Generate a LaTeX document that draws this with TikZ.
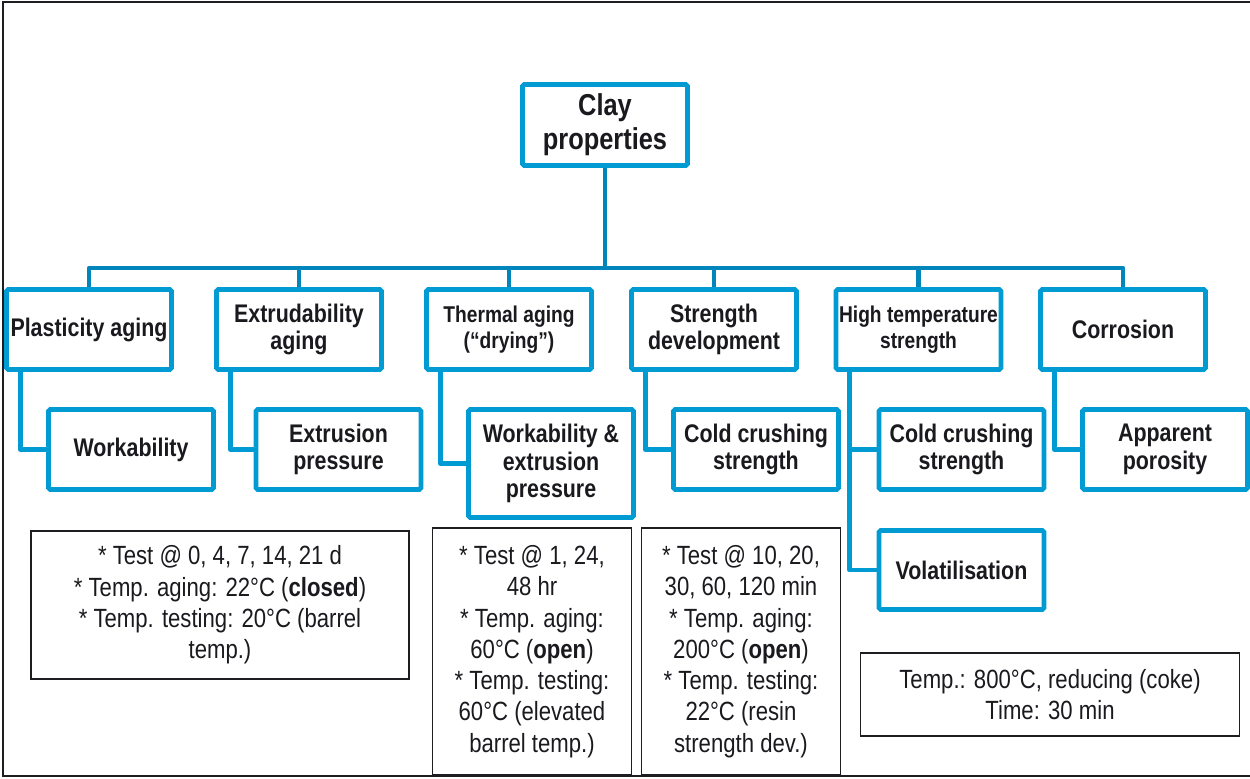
\documentclass[tikz,border=0pt]{standalone}
\usepackage{fontspec}
\setmainfont{Liberation Sans}[FakeStretch=0.84]
\definecolor{boxblue}{RGB}{0,155,210}
\definecolor{busblue}{RGB}{0,134,186}
\definecolor{framegray}{RGB}{30,30,34}
\definecolor{txt}{RGB}{25,25,30}
\begin{document}
\begin{tikzpicture}[x=0.02cm,y=-0.02cm,
  lvl/.style={draw=boxblue, line width=2.7pt, fill=white, rounded corners=1pt,
    align=center, inner sep=0pt, minimum width=3.3cm, minimum height=1.6cm,
    text=txt, font=\fontsize{14.5}{15.6}\selectfont\bfseries},
  small/.style={font=\fontsize{13}{14.6}\selectfont\bfseries},
  note/.style={draw=framegray, line width=1pt, align=center, inner sep=0pt,
    text=txt, font=\fontsize{15}{17.8}\selectfont},
  bus/.style={draw=busblue, line width=2.7pt, line join=round},
  conn/.style={draw=boxblue, line width=2.7pt, line join=round}]
\useasboundingbox (0,0) rectangle (1250,778);

% outer frame (open on the right)
\draw[framegray, line width=1.2pt] (1250,2) -- (3,2) -- (3,776) -- (1250,776);

% root
\node[lvl, minimum height=1.62cm, font=\fontsize{17.2}{19.2}\selectfont\bfseries]
  (clay) at (605,125) {Clay\\properties};
\coordinate (bus) at (605,268);

% first level
\node[lvl] (pl) at (89,329.5)   {Plasticity aging};
\node[lvl] (ex) at (299,329.5)  {Extrudability\\aging};
\node[lvl, small] (th) at (509,329.5)  {Thermal aging\\(“drying”)};
\node[lvl] (st) at (714,329.5)  {Strength\\development};
\node[lvl, small] (ht) at (918.5,329.5) {High temperature\\strength};
\node[lvl] (co) at (1123,329.5) {Corrosion};

% second level
\node[lvl] (wk)  at (131,449.5)   {Workability};
\node[lvl] (ep)  at (338.5,449.5) {Extrusion\\pressure};
\node[lvl, minimum height=2.16cm] (wep) at (551,463.5) {Workability \&\\extrusion\\pressure};
\node[lvl] (cc1) at (756,449.5)   {Cold crushing\\strength};
\node[lvl] (cc2) at (961.5,449.5) {Cold crushing\\strength};
\node[lvl] (ap)  at (1165,449.5)  {Apparent\\porosity};
\node[lvl, minimum height=1.58cm] (vol) at (961.5,570) {Volatilisation};

% tree connectors
\draw[bus] (clay.south) -- (bus);
\foreach \b in {pl,ex,th,st,ht,co}
  \draw[bus] (\b.north) |- (bus);

\draw[conn] (pl.south west) ++(16,0) |- (wk.west);
\draw[conn] (ex.south west) ++(16,0) |- (ep.west);
\draw[conn] (th.south west) ++(16,0) |- (wep.west);
\draw[conn] (st.south west) ++(16,0) |- (cc1.west);
\draw[conn] (ht.south west) ++(16,0) |- (cc2.west);
\draw[conn] (ht.south west) ++(16,0) |- (vol.west);
\draw[conn] (co.south west) ++(16,0) |- (ap.west);

% test condition notes
\node[note, minimum width=7.56cm, minimum height=2.96cm] (n1) at (220,605)
  {* Test @ 0, 4, 7, 14, 21 d\\
   * Temp. aging: 22°C (\textbf{closed})\\
   * Temp. testing: 20°C (barrel\\
   temp.)};
\node[note, minimum width=3.98cm, minimum height=4.94cm] (n2) at (532,651.5)
  {* Test @ 1, 24,\\48 hr\\* Temp. aging:\\60°C (\textbf{open})\\
   * Temp. testing:\\60°C (elevated\\barrel temp.)};
\node[note, minimum width=3.98cm, minimum height=4.94cm] (n3) at (741,651.5)
  {* Test @ 10, 20,\\30, 60, 120 min\\* Temp. aging:\\200°C (\textbf{open})\\
   * Temp. testing:\\22°C (resin\\strength dev.)};
\node[note, minimum width=7.58cm, minimum height=1.66cm] (n4) at (1050,694.5)
  {Temp.: 800°C, reducing (coke)\\Time: 30 min};
\end{tikzpicture}
\end{document}
